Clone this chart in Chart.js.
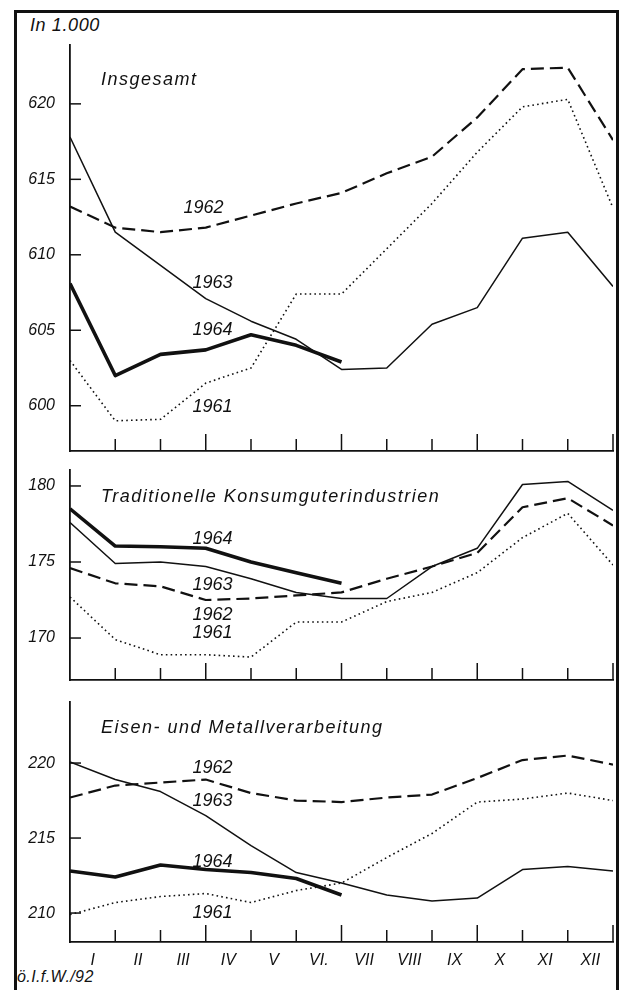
<!DOCTYPE html>
<html>
<head>
<meta charset="utf-8">
<script src="https://cdn.jsdelivr.net/npm/chart.js@4.4.1/dist/chart.umd.min.js"></script>
<style>
  body { margin: 0; background: #fff; }
  #page { position: relative; width: 622px; height: 990px; overflow: hidden; background: #fff; }
  #frame { position: absolute; left: 14px; top: 10px; width: 599px; height: 990px;
           border-left: 3px solid #111; border-top: 3px solid #111; border-right: 3px solid #111; }
  .txt { position: absolute; font-family: "Liberation Sans", Arial, sans-serif; font-style: italic; color: #111; }
  canvas { position: absolute; left: 0; }
</style>
</head>
<body>
<div id="page">
  <div id="frame"></div>
  <div class="txt" style="left:30px; top:15px; font-size:18px; letter-spacing:0.6px;">In 1.000</div>
  <div class="txt" style="left:17px; top:968px; font-size:16px; letter-spacing:0.4px;">ö.I.f.W./92</div>
  <canvas id="c1" width="622" height="426" style="top:35px"></canvas>
  <canvas id="c2" width="622" height="230" style="top:460px"></canvas>
  <canvas id="c3" width="622" height="290" style="top:692px"></canvas>
</div>
<script>
// month boundaries 0..12, labels sit between them
const monthLabels = ['I', 'II', 'III', 'IV', 'V', 'VI.', 'VII', 'VIII', 'IX', 'X', 'XI', 'XII'];
const years = ['1961', '1962', '1963', '1964'];

// Insgesamt
const total1961 = [603.0, 599.0, 599.1, 601.5, 602.5, 607.4, 607.4, 610.4, 613.4, 616.8, 619.8, 620.3, 613.1];
const total1962 = [613.2, 611.8, 611.5, 611.8, 612.6, 613.4, 614.1, 615.4, 616.5, 619.1, 622.3, 622.4, 617.6];
const total1963 = [617.8, 611.5, 609.3, 607.1, 605.6, 604.4, 602.4, 602.5, 605.4, 606.5, 611.1, 611.5, 607.9];
const total1964 = [608.1, 602.0, 603.4, 603.7, 604.7, 604.0, 602.9];

// Traditionelle Konsumgüterindustrien
const konsum1961 = [172.7, 169.9, 168.9, 168.9, 168.75, 171.05, 171.05, 172.4, 173.0, 174.3, 176.6, 178.2, 174.8];
const konsum1962 = [174.6, 173.6, 173.4, 172.5, 172.6, 172.8, 173.0, 173.9, 174.7, 175.6, 178.6, 179.2, 177.4];
const konsum1963 = [177.6, 174.9, 175.0, 174.7, 173.9, 173.0, 172.6, 172.6, 174.7, 175.9, 180.1, 180.3, 178.4];
const konsum1964 = [178.5, 176.05, 176.0, 175.9, 175.0, 174.3, 173.6];

// Eisen- und Metallverarbeitung
const metall1961 = [209.9, 210.7, 211.1, 211.3, 210.7, 211.5, 212.0, 213.7, 215.3, 217.4, 217.6, 218.0, 217.5];
const metall1962 = [217.7, 218.5, 218.7, 218.9, 218.0, 217.5, 217.4, 217.7, 217.9, 219.0, 220.2, 220.5, 219.9];
const metall1963 = [220.07, 218.9, 218.1, 216.5, 214.5, 212.7, 212.0, 211.2, 210.8, 211.0, 212.9, 213.1, 212.8];
const metall1964 = [212.8, 212.4, 213.2, 212.9, 212.7, 212.3, 211.2];

// year label positions: [x (month units), y value]
const totalLabels = [[3.15, 599.9], [2.95, 613.1], [3.15, 608.1], [3.15, 605.0]];
const konsumLabels = [[3.15, 170.3], [3.15, 171.5], [3.15, 173.5], [3.15, 176.5]];
const metallLabels = [[3.15, 210.0], [3.15, 219.7], [3.15, 217.5], [3.15, 213.4]];

const FONT = '"Liberation Sans", Arial, sans-serif';

const styles = {
    '1961': { borderWidth: 1.6, borderDash: [1.6, 3.2] },
    '1962': { borderWidth: 2.2, borderDash: [13, 6] },
    '1963': { borderWidth: 1.5, borderDash: [] },
    '1964': { borderWidth: 3.6, borderDash: [] }
};

function toPoints(values) {
    return values.map((v, i) => ({ x: i, y: v }));
}

// tick marks pointing into the plot, plus year and panel labels
const decorPlugin = {
    id: 'decor',
    afterDraw(chart, args, opts) {
        const ctx = chart.ctx;
        const xs = chart.scales.x, ys = chart.scales.y;
        const bottom = chart.chartArea.bottom, left = chart.chartArea.left;
        ctx.save();
        ctx.strokeStyle = '#111';
        ctx.lineWidth = 1.5;
        for (let i = 1; i <= 12; i++) {
            const px = xs.getPixelForValue(i);
            const len = i % 3 === 0 ? 17 : 12;
            ctx.beginPath();
            ctx.moveTo(px, bottom);
            ctx.lineTo(px, bottom - len);
            ctx.stroke();
        }
        ys.ticks.forEach(t => {
            const py = ys.getPixelForValue(t.value);
            ctx.beginPath();
            ctx.moveTo(left, py);
            ctx.lineTo(left + 11, py);
            ctx.stroke();
        });
        ctx.fillStyle = '#111';
        ctx.font = 'italic 18px ' + FONT;
        ctx.textAlign = 'center';
        ctx.textBaseline = 'middle';
        opts.labels.forEach((p, i) => {
            ctx.fillText(years[i], xs.getPixelForValue(p[0]), ys.getPixelForValue(p[1]));
        });
        ctx.textAlign = 'left';
        ctx.letterSpacing = '1.5px';
        ctx.fillText(opts.title, opts.titleX, chart.chartArea.top + opts.titleDy);
        ctx.restore();
    }
};

function makePanel(id, series, labels, yMin, yMax, title, titleDy, showMonths) {
    const ctx = document.getElementById(id).getContext('2d');
    const xHeight = showMonths ? 40 : 10;
    return new Chart(ctx, {
        type: 'line',
        data: {
            datasets: series.map((vals, i) => ({
                label: years[i],
                data: toPoints(vals),
                borderColor: '#111',
                borderWidth: styles[years[i]].borderWidth,
                borderDash: styles[years[i]].borderDash,
                borderJoinStyle: 'round',
                pointRadius: 0,
                tension: 0,
                fill: false
            }))
        },
        plugins: [decorPlugin],
        options: {
            responsive: false,
            animation: false,
            layout: { padding: { top: 10, right: 9, left: 0, bottom: 0 } },
            plugins: {
                legend: { display: false },
                tooltip: { enabled: false },
                decor: { labels: labels, title: title, titleX: 101, titleDy: titleDy }
            },
            scales: {
                x: {
                    type: 'linear',
                    min: 0,
                    max: 12,
                    afterBuildTicks: s => { s.ticks = monthLabels.map((m, i) => ({ value: i + 0.5 })); },
                    afterFit: s => {
                        s.height = xHeight;
                        s.paddingLeft = 0; s.paddingRight = 0;
                    },
                    grid: { display: false, drawTicks: false },
                    border: { display: true, color: '#111', width: 1.8 },
                    ticks: {
                        display: showMonths,
                        autoSkip: false,
                        maxRotation: 0,
                        padding: 9,
                        color: '#111',
                        font: { family: FONT, size: 16, style: 'italic' },
                        callback: (v) => monthLabels[Math.floor(v)]
                    }
                },
                y: {
                    min: yMin,
                    max: yMax,
                    afterFit: s => {
                        s.width = 70;
                        s.paddingTop = 0; s.paddingBottom = 0;
                    },
                    grid: { display: false, drawTicks: false },
                    border: { display: true, color: '#111', width: 1.8 },
                    ticks: {
                        stepSize: 5,
                        includeBounds: false,
                        padding: 15,
                        color: '#111',
                        font: { family: FONT, size: 16, style: 'italic' }
                    }
                }
            }
        }
    });
}

makePanel('c1', [total1961, total1962, total1963, total1964], totalLabels,
    597.0, 623.9, 'Insgesamt', 35, false);
makePanel('c2', [konsum1961, konsum1962, konsum1963, konsum1964], konsumLabels,
    167.24, 181.05, 'Traditionelle Konsumguterindustrien', 27, false);
makePanel('c3', [metall1961, metall1962, metall1963, metall1964], metallLabels,
    208.07, 224.07, 'Eisen- und Metallverarbeitung', 26, true);
</script>
</body>
</html>
